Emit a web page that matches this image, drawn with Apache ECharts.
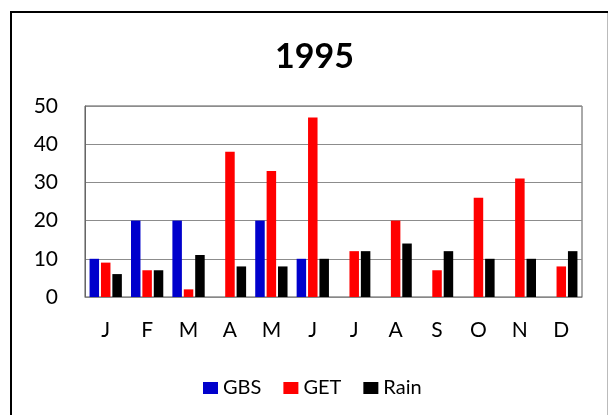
<!DOCTYPE html>
<html>
<head>
<meta charset="utf-8">
<script src="https://cdn.jsdelivr.net/npm/echarts@6/dist/echarts.min.js"></script>
<style>
  html, body { margin: 0; padding: 0; background: #fff; }
  #chart { width: 610px; height: 415px; }
</style>
</head>
<body>
<div id="chart"></div>
<script>
// Monthly values for 1995
const months = ['J', 'F', 'M', 'A', 'M', 'J', 'J', 'A', 'S', 'O', 'N', 'D'];
const gbs  = [10, 20, 20, 0, 20, 10, 0, 0, 0, 0, 0, 0];
const get  = [9, 7, 2, 38, 33, 47, 12, 20, 7, 26, 31, 8];
const rain = [6, 7, 11, 8, 8, 10, 12, 14, 12, 10, 10, 12];
const yTicks = { min: 0, max: 50, interval: 10 };

const FONT = 'Lato, "Open Sans", sans-serif';

const chart = echarts.init(document.getElementById('chart'), null, { renderer: 'canvas' });

function bar(name, data, color) {
  return {
    name: name,
    type: 'bar',
    data: data,
    itemStyle: { color: color },
    barGap: '20%',
    barCategoryGap: '22%'
  };
}

chart.setOption({
  animation: false,
  backgroundColor: '#ffffff',
  title: {
    text: '1995',
    left: 270,
    top: 35,
    textStyle: { fontFamily: FONT, fontSize: 34, fontWeight: 'bold', color: '#000' }
  },
  legend: {
    left: 198,
    top: 373,
    itemWidth: 15,
    itemHeight: 12,
    itemGap: 22,
    icon: 'rect',
    textStyle: { fontFamily: FONT, fontSize: 20, color: '#000' },
    data: ['GBS', 'GET', 'Rain']
  },
  grid: {
    left: 85, right: 28, top: 106, bottom: 118,
    show: true,
    borderColor: '#555',
    borderWidth: 1
  },
  xAxis: {
    type: 'category',
    data: months,
    axisLine: { lineStyle: { color: '#888', width: 1 } },
    axisTick: { show: false },
    axisLabel: { fontFamily: FONT, fontSize: 21, color: '#000', margin: 23 }
  },
  yAxis: {
    type: 'value',
    min: yTicks.min,
    max: yTicks.max,
    interval: yTicks.interval,
    axisLine: { show: true, lineStyle: { color: '#666', width: 1 } },
    axisTick: { show: false },
    axisLabel: { fontFamily: FONT, fontSize: 21, color: '#000', margin: 27 },
    splitLine: { lineStyle: { color: '#8c8c8c', width: 1 } }
  },
  series: [
    bar('GBS', gbs, '#0000cc'),
    bar('GET', get, '#ff0000'),
    bar('Rain', rain, '#000000')
  ],
  graphic: [
    { type: 'line', shape: { x1: 11, y1: 11, x2: 11, y2: 415 }, style: { stroke: '#000', lineWidth: 2 } },
    { type: 'line', shape: { x1: 10, y1: 12, x2: 608, y2: 12 }, style: { stroke: '#000', lineWidth: 2 } },
    { type: 'line', shape: { x1: 607.5, y1: 13, x2: 607.5, y2: 415 }, style: { stroke: '#bbb', lineWidth: 1 } }
  ]
});
</script>
</body>
</html>
